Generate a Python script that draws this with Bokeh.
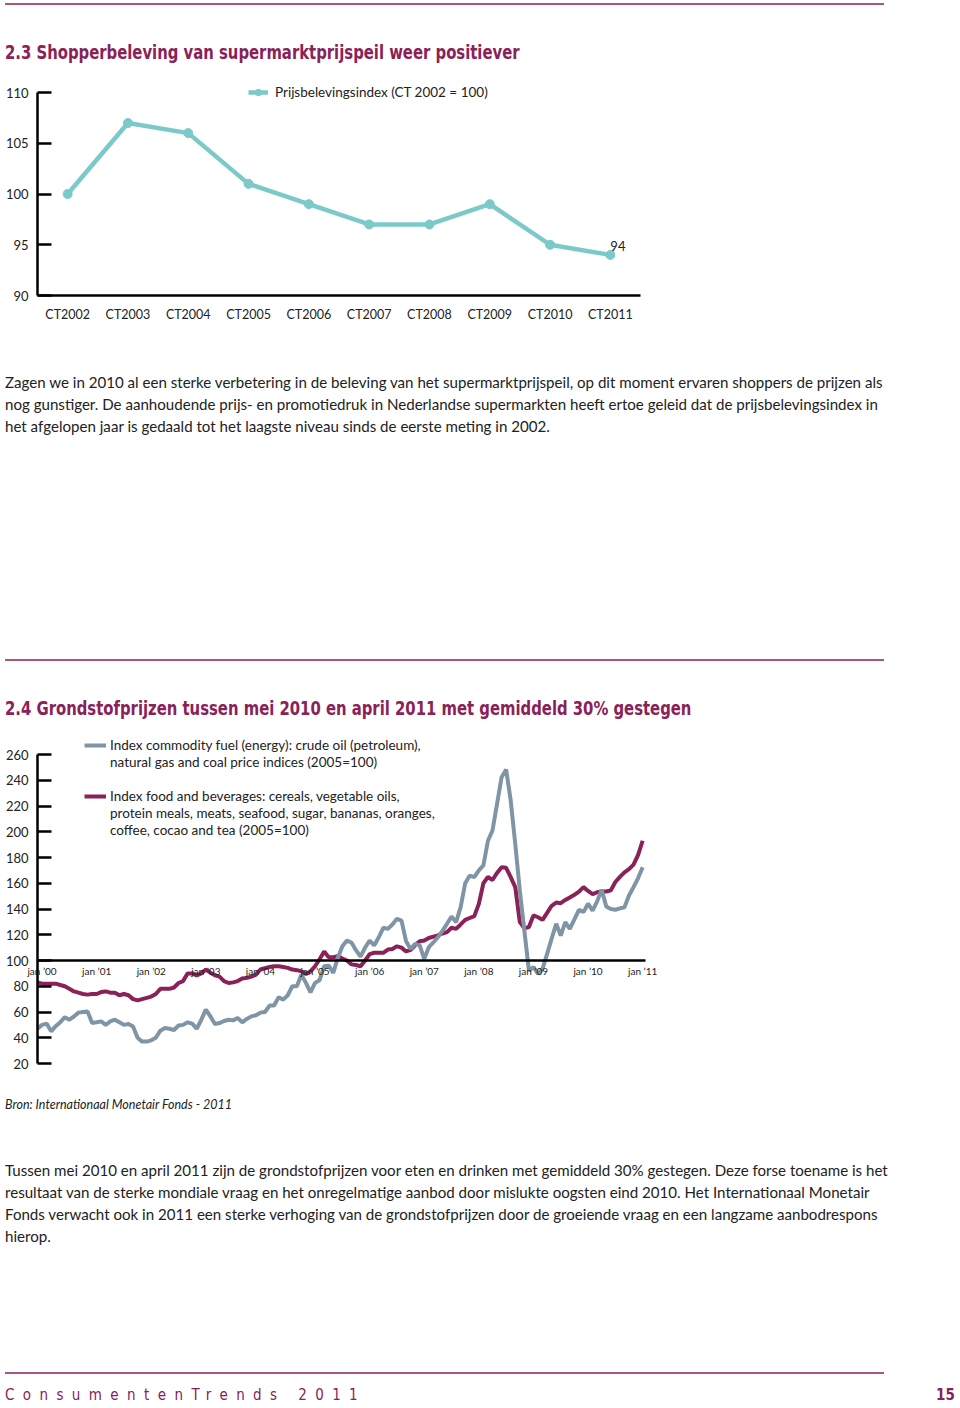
from bokeh.plotting import figure
from bokeh.models import (ColumnDataSource, FactorRange, Range1d, Legend, LegendItem,
                          Div, FixedTicker)
from bokeh.layouts import column
from bokeh.embed import file_html
from bokeh.resources import INLINE
from bokeh.core.properties import value

# ---------------- data: chart 2.3 ----------------
ct_categories = ["CT2002", "CT2003", "CT2004", "CT2005", "CT2006",
                 "CT2007", "CT2008", "CT2009", "CT2010", "CT2011"]
ct_index = [100, 107, 106, 101, 99, 97, 97, 99, 95, 94]
ct_legend = "Prijsbelevingsindex (CT 2002 = 100)"
ct_y_ticks = [90, 95, 100, 105, 110]

# ---------------- data: chart 2.4 (monthly, from Dec 1999) ----------------
start_year, start_month = 1999, 12
fuel_index = [
    47, 50, 51, 45, 49, 52, 56, 54, 56.5, 59.5,
    60, 60.5, 51.5, 52, 52.7, 50, 52.7, 54, 52, 50,
    50.7, 48.8, 40, 37, 37, 38, 40, 45.5, 47.5, 47,
    46, 49.5, 50, 52, 51, 47, 54, 61.8, 56.6, 50.7,
    51.4, 53, 54, 53.5, 55.3, 52, 54.6, 56.6, 57.5, 59.5,
    60, 65, 65, 71.4, 69.6, 73, 80, 80, 89, 82.6,
    75.3, 82.6, 84.7, 95.6, 96, 90.4, 102, 111, 115.5, 114,
    108, 103, 110, 115.5, 111.7, 118, 125.4, 124.6, 128, 132.4,
    131, 115, 109, 113, 111.7, 101.3, 110.3, 114, 118.1, 123,
    128.5, 134.2, 129.8, 141.4, 160, 166, 164.7, 170, 173.8, 193,
    201, 221.7, 242.4, 248.3, 224.3, 190.6, 154.4, 123.3, 92.2, 94.8,
    89.6, 93.5, 105.2, 117, 128.5, 119.4, 129.8, 124.6, 132, 139.4,
    137.6, 144.1, 138.8, 146, 154.9, 142, 140, 139.4, 140.5, 141.4,
    150.5, 157, 164, 172.5,
]
food_index = [
    83, 82, 82, 82, 82, 81, 80, 78, 76, 75,
    74, 73.5, 74, 74, 75.5, 76, 75, 75, 73, 74,
    73, 70, 69, 70, 71, 72, 74, 78, 78, 78,
    79, 82.5, 84, 90, 90, 88.5, 90, 93, 90.5, 88.5,
    87.5, 84, 82.5, 83, 84, 86, 86.5, 87.5, 89, 93,
    94, 95, 95.5, 95.5, 95, 94.3, 93, 92.5, 91.7, 89.5,
    91.5, 95.5, 101, 107, 102.5, 102.5, 103.4, 101.5, 100, 97,
    96.5, 95.5, 100, 105, 106, 106, 106, 108.5, 109, 111,
    110, 107, 108.3, 112, 115, 115.5, 117.5, 118.5, 119.5, 121,
    122, 125.4, 124.6, 128, 131.5, 133, 134.5, 144, 160, 165,
    162.5, 168, 172.5, 172, 164.7, 157, 130, 125, 126, 135,
    133.6, 131.6, 137, 142.5, 145, 144.5, 147, 149, 151, 153.5,
    157, 154, 151.5, 153, 153.6, 153.6, 154.5, 161, 165, 168.5,
    171, 174.5, 182, 193,
]
fuel_legend = ["Index commodity fuel (energy): crude oil (petroleum),",
               "natural gas and coal price indices (2005=100)"]
food_legend = ["Index food and beverages: cereals, vegetable oils,",
               "protein meals, meats, seafood, sugar, bananas, oranges,",
               "coffee, cocao and tea (2005=100)"]
year_ticks = list(range(2000, 2012))
year_tick_labels = ["jan \u201900", "jan \u201901", "jan \u201902", "jan \u201903",
                    "jan \u201904", "jan \u201905", "jan \u201906", "jan \u201907",
                    "jan \u201908", "jan \u201909", "jan \u201910", "jan \u201911"]
value_ticks = [20, 40, 60, 80, 100, 120, 140, 160, 180, 200, 220, 240, 260]

# ---------------- texts ----------------
title_23 = "2.3 Shopperbeleving van supermarktprijspeil weer positiever"
title_24 = "2.4 Grondstofprijzen tussen mei 2010 en april 2011 met gemiddeld 30% gestegen"
para_1 = [
    "Zagen we in 2010 al een sterke verbetering in de beleving van het supermarktprijspeil, op dit moment ervaren shoppers de prijzen als",
    "nog gunstiger. De aanhoudende prijs- en promotiedruk in Nederlandse supermarkten heeft ertoe geleid dat de prijsbelevingsindex in",
    "het afgelopen jaar is gedaald tot het laagste niveau sinds de eerste meting in 2002.",
]
source_text = "Bron: Internationaal Monetair Fonds - 2011"
para_2 = [
    "Tussen mei 2010 en april 2011 zijn de grondstofprijzen voor eten en drinken met gemiddeld 30% gestegen. Deze forse toename is het",
    "resultaat van de sterke mondiale vraag en het onregelmatige aanbod door mislukte oogsten eind 2010. Het Internationaal Monetair",
    "Fonds verwacht ook in 2011 een sterke verhoging van de grondstofprijzen door de groeiende vraag en een langzame aanbodrespons",
    "hierop.",
]
footer_text = "ConsumentenTrends 2011"
page_number = "15"

# ---------------- style ----------------
TEAL = "#7CC9C9"
MAROON = "#8A2157"
GREY = "#7F95A5"
HEAD = "#8A2157"
RULE = "#A4577F"
INK = "#222222"
BODY_FONT = "Lato"
HEAD_FONT = "'Liberation Sans Narrow', 'DejaVu Sans Condensed', sans-serif"
PAGE_W = 952


def style_axes(p):
    for ax in (p.xaxis[0], p.yaxis[0]):
        ax.axis_line_width = 2.5
        ax.axis_line_color = "black"
        ax.major_label_text_font = BODY_FONT
        ax.major_label_text_color = INK
        ax.minor_tick_line_color = None
    p.yaxis.major_tick_in = 14
    p.yaxis.major_tick_out = 0
    p.yaxis.major_tick_line_width = 2.5
    p.yaxis.major_tick_line_color = "black"
    p.yaxis.major_label_standoff = 9
    p.yaxis.major_label_text_font_size = "13px"
    p.xaxis.major_tick_line_color = None
    p.xaxis.major_tick_in = 0
    p.xaxis.major_tick_out = 0
    p.xgrid.grid_line_color = None
    p.ygrid.grid_line_color = None
    p.outline_line_color = None
    p.frame_align = False


# ---------------- chart 2.3 ----------------
C1_PX_PER_UNIT = 10.15
p1 = figure(width=PAGE_W, height=260,
            x_range=FactorRange(factors=ct_categories, range_padding=0),
            y_range=Range1d(90, 110 + 22 / C1_PX_PER_UNIT),
            output_backend="svg", toolbar_location=None,
            min_border_left=37, min_border_right=PAGE_W - 37 - 603,
            min_border_top=0, min_border_bottom=35)
style_axes(p1)
p1.yaxis.ticker = FixedTicker(ticks=ct_y_ticks)
p1.yaxis.bounds = (ct_y_ticks[0], ct_y_ticks[-1])
p1.xaxis.major_label_text_font_size = "12.5px"
p1.xaxis.major_label_standoff = 11

src1 = ColumnDataSource(dict(cat=ct_categories, val=ct_index))
r_line = p1.line("cat", "val", source=src1, line_color=TEAL, line_width=4.5)
r_dot = p1.scatter("cat", "val", source=src1, size=9, fill_color=TEAL, line_color=TEAL)
src_last = ColumnDataSource(dict(cat=[ct_categories[-1]], val=[ct_index[-1]],
                                 txt=[str(ct_index[-1])]))
p1.text("cat", "val", text="txt", source=src_last, text_font=value(BODY_FONT),
        text_font_size="13px", text_color=INK, text_align="left",
        text_baseline="bottom", y_offset=-4)

leg1 = Legend(items=[LegendItem(label=ct_legend, renderers=[r_line, r_dot])],
              location=(211, 195), padding=0, margin=0, spacing=0,
              glyph_width=20, glyph_height=16, label_height=16, label_standoff=7,
              label_text_font=BODY_FONT, label_text_font_size="13.5px",
              label_text_color=INK, border_line_color=None,
              background_fill_alpha=0)
p1.add_layout(leg1)

# ---------------- chart 2.4 ----------------
PX_PER_MONTH = 4.55
PX_PER_UNIT = 25.75 / 20
AXIS_X = 37            # page x of the vertical axis
x0 = start_year + (start_month - 1) / 12
x_months = [x0 + i / 12 for i in range(len(fuel_index))]
x_axis_end = x0 + 133.6 / 12
p2 = figure(width=PAGE_W, height=357,
            x_range=Range1d(x0 - AXIS_X / PX_PER_MONTH / 12,
                            x0 + (PAGE_W - AXIS_X) / PX_PER_MONTH / 12),
            y_range=Range1d(20 - 22 / PX_PER_UNIT, 260 + 26 / PX_PER_UNIT),
            output_backend="svg", toolbar_location=None,
            min_border_left=0, min_border_right=0,
            min_border_top=0, min_border_bottom=0)
style_axes(p2)
p2.yaxis.ticker = FixedTicker(ticks=value_ticks)
p2.yaxis.bounds = (value_ticks[0], value_ticks[-1])
p2.yaxis.fixed_location = x0
p2.xaxis.ticker = FixedTicker(ticks=year_ticks)
p2.xaxis.major_label_overrides = {t: lab for t, lab in zip(year_ticks, year_tick_labels)}
p2.xaxis.major_label_text_font_size = "10px"
p2.xaxis.major_label_standoff = 4
p2.xaxis.bounds = (x0, x_axis_end)
p2.xaxis.fixed_location = 100

src2 = ColumnDataSource(dict(x=x_months, fuel=fuel_index, food=food_index))
r_food = p2.line("x", "food", source=src2, line_color=MAROON, line_width=4)
r_fuel = p2.line("x", "fuel", source=src2, line_color=GREY, line_width=4)
r_blank = p2.line(x=[], y=[], line_alpha=0)   # legend continuation rows only

items2 = [LegendItem(label=fuel_legend[0], renderers=[r_fuel])]
items2 += [LegendItem(label=t, renderers=[r_blank]) for t in fuel_legend[1:]]
items2 += [LegendItem(label=" ", renderers=[r_blank])]
items2 += [LegendItem(label=food_legend[0], renderers=[r_food])]
items2 += [LegendItem(label=t, renderers=[r_blank]) for t in food_legend[1:]]
leg2 = Legend(items=items2, location=(84, 247), padding=0, margin=0, spacing=1,
              glyph_width=22, glyph_height=16, label_height=16, label_standoff=4,
              label_text_font=BODY_FONT, label_text_font_size="13.5px",
              label_text_color=INK, border_line_color=None,
              background_fill_alpha=0)
p2.add_layout(leg2)

# ---------------- page text blocks ----------------
def abs_box(top, html, left=5, extra=""):
    return (f'<div style="position:absolute;left:{left}px;top:{top}px;'
            f'white-space:nowrap;{extra}">{html}</div>')

def rule(top):
    return (f'<div style="position:absolute;left:5px;top:{top}px;width:879px;'
            f'height:0;border-top:2px solid {RULE};"></div>')

head_css = (f"font-family:{HEAD_FONT};font-weight:bold;font-size:20px;"
            f"line-height:26px;color:{HEAD};transform:scaleX(0.825);transform-origin:0 50%;")
body_css = (f"font-family:{BODY_FONT};font-size:15.1px;line-height:22px;color:{INK};")

def block(h, inner):
    return Div(text=f'<div style="position:relative;width:{PAGE_W}px;height:{h}px;">{inner}</div>',
               width=PAGE_W, height=h, margin=0)

divA = block(70, rule(3) + abs_box(39, title_23, extra=head_css))
divB = block(398, abs_box(41, "<br>".join(para_1), extra=body_css)
             + rule(329) + abs_box(365, title_24, extra=head_css))
foot_css = (f"font-family:{HEAD_FONT};font-size:15px;line-height:16px;color:{HEAD};"
            f"letter-spacing:8.4px;")
num_css = (f"font-family:{HEAD_FONT};font-size:15px;font-weight:bold;line-height:16px;"
           f"color:{HEAD};")
divC = block(320,
             abs_box(12, source_text,
                     extra=f"font-family:{BODY_FONT};font-style:italic;font-size:12.5px;line-height:16px;color:{INK};")
             + abs_box(74, "<br>".join(para_2), extra=body_css)
             + rule(287)
             + abs_box(302, footer_text, extra=foot_css)
             + abs_box(302, page_number, left=936, extra=num_css))

page = column(divA, p1, divB, p2, divC, spacing=0)

open("out.html", "w").write(file_html(page, INLINE, title="ConsumentenTrends 2011"))
